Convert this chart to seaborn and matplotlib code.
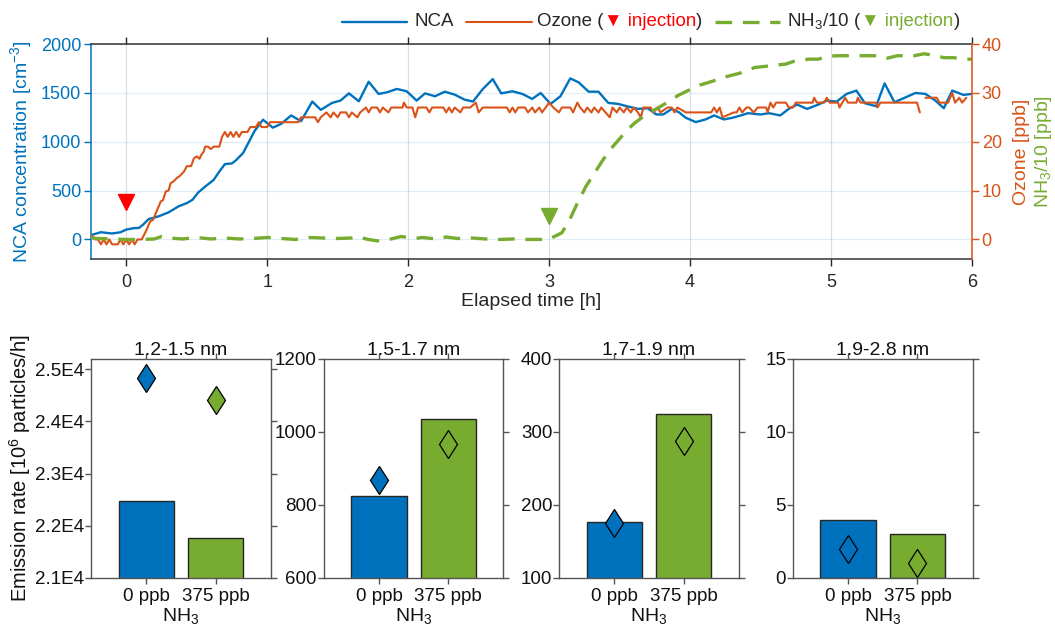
import numpy as np
import pandas as pd
import matplotlib
matplotlib.use("Agg")
import matplotlib.pyplot as plt
import seaborn as sns
from matplotlib.lines import Line2D
from matplotlib.offsetbox import HPacker, TextArea, DrawingArea, AnchoredOffsetbox

sns.set_theme(style="white")
plt.rcParams['font.family'] = ['Liberation Sans', 'DejaVu Sans']
plt.rcParams['mathtext.fontset'] = 'custom'
plt.rcParams['mathtext.rm'] = 'Liberation Sans'
plt.rcParams['mathtext.it'] = 'Liberation Sans:italic'

BLUE = '#0072BD'
ORANGE = '#D95319'
GREEN = '#77AC30'
RED = '#FF0000'
DARK = '#262626'

# ---------------- time series (elapsed time in hours) ----------------
nca_time = [-0.25, -0.18, -0.10, -0.04, 0.00, 0.05, 0.09, 0.12, 0.16, 0.19, 0.23, 0.30,
            0.37, 0.43, 0.47, 0.51, 0.56, 0.62, 0.66, 0.70, 0.75, 0.78, 0.83, 0.87,
            0.91, 0.97, 1.04, 1.10, 1.17, 1.24, 1.32, 1.38, 1.46, 1.52, 1.58, 1.65,
            1.72, 1.79, 1.85, 1.92, 1.99, 2.06, 2.12, 2.19, 2.26, 2.33, 2.40, 2.46,
            2.53, 2.60, 2.66, 2.74, 2.81, 2.88, 2.94, 3.01, 3.08, 3.15, 3.21, 3.28,
            3.35, 3.42, 3.49, 3.56, 3.63, 3.70, 3.76, 3.81, 3.87, 3.92, 3.97, 4.04,
            4.11, 4.17, 4.24, 4.30, 4.36, 4.41, 4.50, 4.56, 4.64, 4.70, 4.76, 4.83,
            4.91, 4.97, 5.04, 5.11, 5.18, 5.24, 5.32, 5.38, 5.45, 5.53, 5.60, 5.67,
            5.74, 5.80, 5.86, 5.94, 6.00]
nca_conc = [45, 74, 61, 74, 101, 115, 118, 152, 210, 220, 237, 277,
            338, 372, 406, 480, 541, 609, 694, 771, 778, 812, 886, 998,
            1109, 1225, 1144, 1184, 1269, 1210, 1411, 1326, 1397, 1421, 1495, 1414,
            1614, 1489, 1506, 1540, 1516, 1421, 1495, 1465, 1512, 1482, 1431, 1411,
            1540, 1641, 1495, 1516, 1489, 1438, 1499, 1387, 1465, 1648, 1607, 1512,
            1512, 1397, 1387, 1360, 1336, 1343, 1279, 1279, 1336, 1302, 1245, 1201,
            1228, 1269, 1228, 1245, 1269, 1292, 1279, 1292, 1269, 1336, 1380, 1336,
            1380, 1421, 1411, 1489, 1523, 1394, 1363, 1597, 1404, 1455, 1499, 1489,
            1421, 1343, 1523, 1479, 1490]

ozone_time_a = [-0.25, -0.22, -0.20, -0.18, -0.16, -0.14, -0.12, -0.10, -0.06, -0.04,
                -0.02, 0.00, 0.02, 0.04, 0.06, 0.08, 0.11, 0.14, 0.17, 0.19, 0.21,
                0.245, 0.26, 0.28, 0.30, 0.315, 0.34, 0.36, 0.38, 0.41, 0.43, 0.46,
                0.48, 0.50, 0.52, 0.53, 0.55, 0.56, 0.58, 0.60, 0.62, 0.66, 0.68,
                0.70, 0.72, 0.74, 0.76, 0.78, 0.80, 0.82, 0.86, 0.88, 0.92, 0.94,
                0.96, 1.00, 1.02, 1.22, 1.24, 1.34, 1.36, 1.38, 1.42, 1.45, 1.47,
                1.50, 1.52, 1.56, 1.58, 1.60, 1.64, 1.66, 1.70, 1.72, 1.74, 1.78,
                1.80, 1.82, 1.86, 1.88, 1.96, 1.97, 1.99, 2.03, 2.05, 2.07, 2.13,
                2.15, 2.17, 2.25, 2.27, 2.29, 2.31, 2.33, 2.37, 2.39, 2.44, 2.48,
                2.50, 2.53, 2.70, 2.72, 2.74, 2.76, 2.78, 2.83, 2.85, 2.88, 2.90,
                2.93, 2.95, 3.00, 3.03, 3.07, 3.09, 3.15, 3.17, 3.20, 3.22, 3.25,
                3.27, 3.30, 3.32, 3.35, 3.37, 3.40, 3.43, 3.45, 3.48, 3.50, 3.53,
                3.55, 3.58, 3.60, 3.63, 3.65, 3.67, 3.72, 3.74, 3.77, 3.79, 3.84,
                3.87, 3.89, 3.91, 3.97, 4.15, 4.17, 4.19, 4.21, 4.23, 4.31, 4.33,
                4.35, 4.37, 4.40, 4.42, 4.45, 4.48, 4.54, 4.55, 4.57, 4.59, 4.61,
                4.68, 4.70, 4.73, 4.75, 4.87, 4.88, 4.90, 4.95, 4.97, 4.99, 5.05,
                5.06, 5.08, 5.10, 5.12, 5.18, 5.19, 5.21, 5.32, 5.33, 5.35, 5.61,
                5.63]
ozone_ppb_a = [1, 0, 0, -1, 0, -1, 0, -1, -1, 0,
               -1, 0, -1, 0, -1, 0, 0, 1.7, 3.7, 4, 5.4,
               7.8, 8, 9.8, 10, 11.5, 12, 12.6, 13, 13.9, 15, 15,
               16.6, 17, 16.5, 17.2, 18, 19, 19, 18.5, 19, 19, 21,
               22, 21, 22, 21, 22, 21, 22, 22, 23, 23, 24,
               23, 23, 24, 24, 25, 25, 24, 25, 26, 25, 26,
               25, 26, 26, 25, 26, 25, 26, 27, 26, 27, 27,
               26, 27, 26, 27, 27, 28, 27, 27, 25, 27, 27,
               26, 27, 27, 26, 27, 26, 27, 26, 27, 27, 28,
               26, 27, 27, 26, 27, 26, 27, 27, 26, 27, 26,
               27, 26, 28, 27, 26, 27, 27, 26, 28, 27, 26,
               27, 26, 27, 26, 27, 26, 25, 27, 26, 27, 26,
               27, 26, 27, 26, 25, 27, 27, 26, 27, 26, 27,
               27, 26, 27, 26, 26, 27, 26, 27, 25, 26, 26,
               27, 26, 27, 27, 26, 27, 27, 26, 28, 27, 28,
               28, 27, 27, 28, 28, 29, 28, 28, 29, 28, 28,
               27, 28, 29, 28, 28, 29, 28, 28, 27, 28, 28,
               26]
ozone_time_b = [5.67, 5.75, 5.77, 5.83, 5.86, 5.88, 5.91, 5.93, 5.96]
ozone_ppb_b = [29, 29, 28, 28, 30, 28, 29, 28, 29]

nh3_time = [-0.25, -0.20, -0.10, 0.00, 0.10, 0.20, 0.25, 0.30, 0.40, 0.50, 0.60, 0.70,
            0.80, 0.90, 1.00, 1.10, 1.20, 1.30, 1.40, 1.50, 1.60, 1.65, 1.70, 1.78,
            1.85, 1.95, 2.05, 2.10, 2.20, 2.27, 2.35, 2.45, 2.55, 2.65, 2.75, 2.85,
            2.95, 3.00, 3.03, 3.09, 3.14, 3.20, 3.26, 3.32, 3.38, 3.44, 3.50, 3.55,
            3.61, 3.68, 3.76, 3.83, 3.91, 3.98, 4.07, 4.15, 4.24, 4.35, 4.46, 4.56,
            4.68, 4.73, 4.84, 4.91, 4.98, 5.05, 5.17, 5.26, 5.36, 5.40, 5.47, 5.59,
            5.66, 5.75, 5.80, 5.87, 5.94, 6.00]
nh3_ppb10 = [0.3, 0.2, 0.1, 0.0, 0.0, 0.1, 0.6, 0.3, 0.1, 0.4, 0.1, 0.3,
             0.1, 0.2, 0.4, 0.2, 0.0, 0.4, 0.3, 0.2, 0.3, 0.6, 0.1, -0.3,
             -0.1, 0.6, 0.2, 0.4, 0.1, 0.5, 0.2, 0.3, 0.1, 0.0, 0.1, 0.0,
             0.0, 0.0, 0.5, 1.35, 3.7, 7.4, 10.8, 13.5, 16.2, 18.6, 20.6, 22.3,
             23.9, 25.4, 26.7, 27.9, 29.4, 30.4, 31.6, 32.3, 33.2, 34.0, 35.2, 35.5,
             35.9, 36.4, 36.9, 36.9, 37.5, 37.6, 37.6, 37.6, 37.6, 37.1, 37.6, 37.6,
             38.0, 37.6, 37.2, 37.2, 36.9, 36.9]

ozone_inj_time, ozone_inj_mark = 0.0, 380      # marker on NCA axis
nh3_inj_time, nh3_inj_mark = 3.0, 4.7          # marker on ppb axis

# ---------------- emission rates per size bin ----------------
bins = ['1.2-1.5 nm', '1.5-1.7 nm', '1.7-1.9 nm', '1.9-2.8 nm']
nh3_levels = ['0 ppb', '375 ppb']
bar_rate = [[22476, 21767], [825, 1036], [176, 324], [4, 3]]
diamond_rate = [[24824, 24408], [868, 966], [175, 287], [2, 1]]
diamond_filled = [[True, True], [True, False], [True, False], [False, False]]
ylims = [(21000, 25200), (600, 1200), (100, 400), (0, 15)]
yticks = [[21000, 22000, 23000, 24000, 25000], [600, 800, 1000, 1200],
          [100, 200, 300, 400], [0, 5, 10, 15]]
ytick_labels = [['2.1E4', '2.2E4', '2.3E4', '2.4E4', '2.5E4'], None, None, None]

TICK = 13
LAB = 14

W, H = 1055, 628
fig = plt.figure(figsize=(W / 100, H / 100), dpi=100)

# ---------------- top panel ----------------
ax = fig.add_axes([91 / W, 1 - 259 / H, (972 - 91) / W, (259 - 44) / H])
axr = ax.twinx()

sns.lineplot(x=nca_time, y=nca_conc, color=BLUE, lw=1.7, ax=ax)
ax.plot([ozone_inj_time], [ozone_inj_mark], marker='v', ms=11, color=RED, ls='none')

sns.lineplot(x=ozone_time_a, y=ozone_ppb_a, color=ORANGE, lw=1.5, ax=axr)
sns.lineplot(x=ozone_time_b, y=ozone_ppb_b, color=ORANGE, lw=1.5, ax=axr)
sns.lineplot(x=nh3_time, y=nh3_ppb10, color=GREEN, lw=2.4, ax=axr, dashes=False)
axr.lines[-1].set_dashes((5.0, 3.2))
axr.plot([nh3_inj_time], [nh3_inj_mark], marker='v', ms=11, color=GREEN, ls='none')

ax.set_xlim(-0.25, 6)
ax.set_ylim(-200, 2000)
axr.set_ylim(-4, 40)
ax.set_xticks(range(0, 7))
ax.set_yticks([0, 500, 1000, 1500, 2000])
axr.set_yticks([0, 10, 20, 30, 40])

ax.xaxis.grid(True, color='#000000', alpha=0.13, lw=0.9)
ax.yaxis.grid(True, color=BLUE, alpha=0.12, lw=0.9)
ax.set_axisbelow(True)

for sp in ['top', 'bottom']:
    ax.spines[sp].set_color('#333333')
    ax.spines[sp].set_linewidth(1.1)
ax.spines['left'].set_color(BLUE)
ax.spines['left'].set_linewidth(1.1)
ax.spines['right'].set_visible(False)
axr.spines['left'].set_visible(False)
axr.spines['top'].set_visible(False)
axr.spines['bottom'].set_visible(False)
axr.spines['right'].set_color(ORANGE)
axr.spines['right'].set_linewidth(1.1)

ax.tick_params(axis='x', direction='out', top=True, bottom=True, length=5, width=1,
               colors=DARK, labelsize=TICK, pad=6)
ax.tick_params(axis='y', direction='out', left=True, length=5, width=1,
               colors=BLUE, labelsize=TICK, pad=2)
axr.tick_params(axis='y', direction='out', right=True, length=5, width=1,
                colors=ORANGE, labelsize=TICK, pad=2)

ax.set_xlabel('Elapsed time [h]', fontsize=LAB, color=DARK, labelpad=1)
ax.set_ylabel('NCA concentration [cm$^{-3}$]', fontsize=LAB, color=BLUE)
ax.yaxis.set_label_coords((34 - 91) / 881, 0.5)
axr.set_ylabel('Ozone [ppb]', fontsize=LAB, color=ORANGE)
axr.yaxis.set_label_coords((1013 - 91) / 881, 0.5)
fig.text(1043 / W, 1 - 152 / H, 'NH$_3$/10 [ppb]', rotation=90, ha='center', va='center',
         fontsize=LAB, color=GREEN)

# legend row above the top panel
def line_handle(color, lw, dashes=None):
    da = DrawingArea(47, 10, 0, 0)
    ln = Line2D([0, 47], [5, 5], color=color, lw=lw)
    if dashes:
        ln.set_dashes(dashes)
    da.add_artist(ln)
    return da

def txt(s, color=DARK):
    return TextArea(s, textprops=dict(color=color, fontsize=13.5))

entries = [
    HPacker(children=[line_handle(BLUE, 1.7), txt('NCA')], sep=5, align='center'),
    HPacker(children=[line_handle(ORANGE, 1.5),
                      HPacker(children=[txt('Ozone ('), txt('\u25BC injection', RED), txt(')')],
                              sep=0, align='baseline')], sep=4, align='center'),
    HPacker(children=[line_handle(GREEN, 2.4, (5.0, 3.2)),
                      HPacker(children=[txt('NH$_3$/10 ('), txt('\u25BC injection', GREEN), txt(')')],
                              sep=0, align='baseline')], sep=5, align='center'),
]
legend_box = HPacker(children=entries, sep=9, align='center')
anchored = AnchoredOffsetbox(loc='center left', child=legend_box, pad=0, frameon=False,
                             bbox_to_anchor=(342 / W, 1 - 22 / H),
                             bbox_transform=fig.transFigure, borderpad=0)
fig.add_artist(anchored)

# ---------------- emission-rate panels ----------------
lefts = [91.3, 323.9, 559.2, 793.0]
pw = 179.5
for i, left in enumerate(lefts):
    axb = fig.add_axes([left / W, 1 - 578 / H, pw / W, (578 - 358.7) / H])
    df = pd.DataFrame({'NH3': nh3_levels, 'rate': bar_rate[i]})
    sns.barplot(data=df, x='NH3', y='rate', hue='NH3', palette=[BLUE, GREEN],
                saturation=1, width=0.8, edgecolor=DARK, linewidth=1.0,
                legend=False, ax=axb)
    for j in range(2):
        fill = [BLUE, GREEN][j] if diamond_filled[i][j] else 'none'
        axb.plot([j], [diamond_rate[i][j]], marker='d', ms=14.5, mfc=fill,
                 mec='black', mew=0.9, ls='none', zorder=5)
    axb.set_xlim(-0.796, 1.796)
    axb.set_ylim(*ylims[i])
    axb.set_yticks(yticks[i])
    if ytick_labels[i] is not None:
        axb.set_yticklabels(ytick_labels[i])
    axb.set_title(bins[i], fontsize=LAB, color='#111111', pad=3)
    axb.set_xlabel('NH$_3$', fontsize=LAB, color='#111111', labelpad=1)
    axb.set_ylabel('')
    for sp in axb.spines.values():
        sp.set_color('#555555')
        sp.set_linewidth(1.0)
    axb.tick_params(direction='out', top=True, right=True, bottom=True, left=True,
                    length=4, width=1, colors='#555555', labelcolor='#111111',
                    labelsize=13.5)
    axb.tick_params(axis='x', pad=3)
    axb.tick_params(axis='y', labelright=False, pad=1)
    if i == 0:
        axb.set_ylabel('Emission rate [10$^6$ particles/h]', fontsize=14.5,
                       color='#111111')
        axb.yaxis.set_label_coords((33 - 91.3) / pw, 0.5)

fig.savefig('out.png', dpi=100)
